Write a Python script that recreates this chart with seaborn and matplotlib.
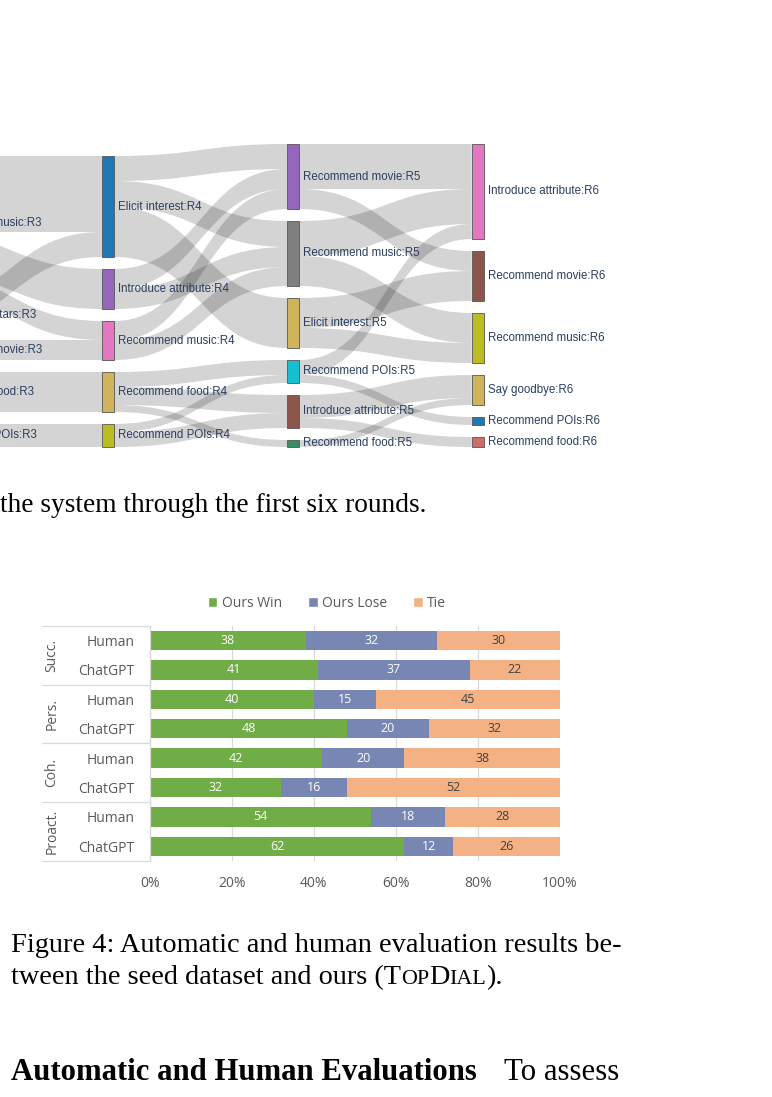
import matplotlib
matplotlib.use("Agg")
import numpy as np
import pandas as pd
import matplotlib.pyplot as plt
import seaborn as sns
from matplotlib.patches import Rectangle, PathPatch, Patch
from matplotlib.path import Path

# ---------------- data ----------------
# sankey: dialogue acts of the system, rounds 3-6
r3_nodes = ["Recommend music:R3", "Recommend stars:R3", "Recommend movie:R3",
            "Recommend food:R3", "Recommend POIs:R3"]
r4_nodes = ["Elicit interest:R4", "Introduce attribute:R4", "Recommend music:R4",
            "Recommend food:R4", "Recommend POIs:R4"]
r5_nodes = ["Recommend movie:R5", "Recommend music:R5", "Elicit interest:R5",
            "Recommend POIs:R5", "Introduce attribute:R5", "Recommend food:R5"]
r6_nodes = ["Introduce attribute:R6", "Recommend movie:R6", "Recommend music:R6",
            "Say goodbye:R6", "Recommend POIs:R6", "Recommend food:R6"]
r3_colors = ["#7f7f7f", "#17becf", "#8c564b", "#cfb45b", "#bcbd22"]
r4_colors = ["#1f77b4", "#9467bd", "#e377c2", "#cfb45b", "#bcbd22"]
r5_colors = ["#9467bd", "#7f7f7f", "#cfb45b", "#17becf", "#8c564b", "#3d8b63"]
r6_colors = ["#e377c2", "#8c564b", "#bcbd22", "#cfb45b", "#1f77b4", "#cd6e6a"]

link_src = ["Recommend music:R3", "Recommend music:R3", "Recommend music:R3",
            "Recommend stars:R3", "Recommend movie:R3", "Recommend food:R3",
            "Recommend POIs:R3",
            "Elicit interest:R4", "Elicit interest:R4", "Elicit interest:R4",
            "Introduce attribute:R4", "Introduce attribute:R4",
            "Recommend music:R4", "Recommend music:R4",
            "Recommend food:R4", "Recommend food:R4", "Recommend food:R4",
            "Recommend POIs:R4", "Recommend POIs:R4",
            "Recommend movie:R5", "Recommend movie:R5",
            "Recommend music:R5", "Recommend music:R5",
            "Elicit interest:R5", "Elicit interest:R5",
            "Recommend POIs:R5", "Recommend POIs:R5",
            "Introduce attribute:R5", "Introduce attribute:R5",
            "Recommend food:R5"]
link_tgt = ["Elicit interest:R4", "Introduce attribute:R4", "Recommend music:R4",
            "Elicit interest:R4", "Recommend music:R4", "Recommend food:R4",
            "Recommend POIs:R4",
            "Recommend movie:R5", "Recommend music:R5", "Elicit interest:R5",
            "Recommend movie:R5", "Recommend music:R5",
            "Recommend movie:R5", "Recommend music:R5",
            "Recommend POIs:R5", "Introduce attribute:R5", "Recommend food:R5",
            "Recommend POIs:R5", "Introduce attribute:R5",
            "Introduce attribute:R6", "Recommend movie:R6",
            "Introduce attribute:R6", "Recommend music:R6",
            "Recommend movie:R6", "Recommend music:R6",
            "Introduce attribute:R6", "Recommend POIs:R6",
            "Say goodbye:R6", "Recommend food:R6",
            "Say goodbye:R6"]
link_val = [76, 40, 19, 25, 20, 40, 23,
            25, 26, 50, 20, 20, 20, 19, 15, 18, 7, 8, 15,
            45, 20, 35, 30, 30, 20, 15, 8, 23, 10, 7]

# stacked bar chart: win / lose / tie (%)
groups = ["Succ.", "Pers.", "Coh.", "Proact."]
judges = ["Human", "ChatGPT"]
win = [38, 41, 40, 48, 42, 32, 54, 62]
lose = [32, 37, 15, 20, 20, 16, 18, 12]
tie = [30, 22, 45, 32, 38, 52, 28, 26]

# ---------------- figure ----------------
W, H = 772, 1097
sns.set_theme(style="white")
plt.rcParams["font.family"] = ["Open Sans", "DejaVu Sans"]
fig = plt.figure(figsize=(W / 100, H / 100), dpi=100)
fig.patch.set_facecolor("white")

page = fig.add_axes([0, 0, 1, 1])
page.set_xlim(0, W)
page.set_ylim(H, 0)
page.axis("off")

# ---- sankey layout ----
columns = [list(zip(r3_nodes, r3_colors)), list(zip(r4_nodes, r4_colors)),
           list(zip(r5_nodes, r5_colors)), list(zip(r6_nodes, r6_colors))]
col_x = [-91, 102.3, 287.3, 471.7]
node_w, gap, base = 12, 12, 447

links = pd.DataFrame({"src": link_src, "tgt": link_tgt, "val": link_val})
vin = links.groupby("tgt")["val"].sum()
vout = links.groupby("src")["val"].sum()

pos = {}
for ci, col in enumerate(columns):
    vals = [max(vin.get(n, 0), vout.get(n, 0)) for n, _ in col]
    y = base - (sum(vals) + gap * (len(vals) - 1))
    for (n, c), v in zip(col, vals):
        pos[n] = dict(x=col_x[ci], y0=y, h=v, color=c, out=y, inn=y)
        y += v + gap

links["sy"] = links["src"].map(lambda n: pos[n]["y0"])
links["ty"] = links["tgt"].map(lambda n: pos[n]["y0"])
band_color = (0, 0, 0, 0.17)
# out-offsets ordered by target position, in-offsets ordered by source position
src_off, tgt_off = {}, {}
for i, r in links.sort_values("ty").iterrows():
    p = pos[r["src"]]
    src_off[i] = p["out"]
    p["out"] += r["val"]
for i, r in links.sort_values("sy").iterrows():
    p = pos[r["tgt"]]
    tgt_off[i] = p["inn"]
    p["inn"] += r["val"]

for i, r in links.iterrows():
    xs = pos[r["src"]]["x"] + node_w
    xt = pos[r["tgt"]]["x"]
    xm = (xs + xt) / 2
    s0, t0, v = src_off[i], tgt_off[i], r["val"]
    verts = [(xs, s0), (xm, s0), (xm, t0), (xt, t0), (xt, t0 + v),
             (xm, t0 + v), (xm, s0 + v), (xs, s0 + v), (xs, s0)]
    codes = [Path.MOVETO, Path.CURVE4, Path.CURVE4, Path.CURVE4, Path.LINETO,
             Path.CURVE4, Path.CURVE4, Path.CURVE4, Path.CLOSEPOLY]
    page.add_patch(PathPatch(Path(verts, codes), facecolor=band_color,
                             edgecolor="none", zorder=1))

for n, p in pos.items():
    page.add_patch(Rectangle((p["x"], p["y0"]), node_w, p["h"], facecolor=p["color"],
                             edgecolor="#555555", linewidth=0.6, zorder=2))
    page.text(p["x"] + node_w + 4, p["y0"] + p["h"] / 2, n, fontsize=8.3,
              family="Liberation Sans", color="#2a3f5f", va="center", ha="left", zorder=3)

# ---- page text ----
renderer = fig.canvas.get_renderer()
serif = "Liberation Serif"
sc = 0.78


def measure(parts, size, weight="normal"):
    w = 0
    for s, k in parts:
        t = page.text(0, 0, s, fontsize=size * k, family=serif, weight=weight)
        w += t.get_window_extent(renderer).width
        t.remove()
    return w


def line(x, y, parts, width, weight="normal"):
    # size the line so that it spans the same width as in the scanned page
    size = 20 * width / measure(parts, 20, weight)
    for s, k in parts:
        t = page.text(x, y, s, fontsize=size * k, family=serif, weight=weight,
                      va="baseline", ha="left", color="black")
        x += t.get_window_extent(renderer).width
    return size


line(0, 512, [("the system through the first six rounds.", 1)], 427)
line(11, 952, [("Figure 4: Automatic and human evaluation results be-", 1)], 611)
line(11, 984.5, [("tween the seed dataset and ours (T", 1), ("OP", sc), ("D", 1),
                 ("IAL", sc), (").", 1)], 490)
line(11, 1079.5, [("Automatic and Human Evaluations", 1)], 465, weight="bold")
line(504, 1079.5, [("To assess", 1)], 115)
line(11, 1116, [("the quality of T", 1), ("OP", sc), ("D", 1), ("IAL", sc),
                (", we conduct both LLM-based and", 1)], 605)

# ---- stacked bar chart ----
rows = [f"{g}|{j}" for g in groups for j in judges]
df = pd.DataFrame({"row": rows, "win": win, "lose": lose, "tie": tie})
df["win_lose"] = df["win"] + df["lose"]
df["total"] = df["win_lose"] + df["tie"]

c_win, c_lose, c_tie = "#70ad47", "#7886b3", "#f4b183"
ax = fig.add_axes([150 / W, 1 - 861 / H, 410 / W, (861 - 625.7) / H])
for col, c in [("total", c_tie), ("win_lose", c_lose), ("win", c_win)]:
    sns.barplot(data=df, y="row", x=col, order=rows, orient="h", color=c,
                saturation=1, width=0.66, errorbar=None, linewidth=0, ax=ax)

for i, r in df.iterrows():
    segs = [(r["win"] / 2, r["win"], "white"),
            (r["win"] + r["lose"] / 2, r["lose"], "white"),
            (r["win_lose"] + r["tie"] / 2, r["tie"], "#404040")]
    for xc, v, tc in segs:
        ax.text(xc, i, f"{v}", ha="center", va="center", fontsize=9,
                color=tc, family="Open Sans")

ax.set_xlim(0, 100)
ax.set_ylim(len(rows) - 0.5, -0.5)
ax.set_xticks(range(0, 101, 20))
ax.set_xticklabels([f"{t}%" for t in range(0, 101, 20)])
ax.set_yticks(range(len(rows)))
ax.set_yticklabels([j for g in groups for j in judges])
ax.set_xlabel("")
ax.set_ylabel("")
ax.tick_params(axis="x", length=0, pad=11, labelsize=10, labelcolor="#595959")
ax.tick_params(axis="y", length=0, pad=11, labelsize=10, labelcolor="#595959")
ax.grid(axis="x", color="#d9d9d9", linewidth=0.9)
ax.set_axisbelow(True)
for s in ["top", "right", "bottom"]:
    ax.spines[s].set_visible(False)
ax.spines["left"].set_color("#d9d9d9")
ax.spines["left"].set_linewidth(0.9)

ytr = ax.get_yaxis_transform()
left_edge = (42 - 150) / 410
for k in range(len(groups) + 1):
    yb = 2 * k - 0.5
    ax.plot([left_edge, 0], [yb, yb], transform=ytr, color="#d9d9d9",
            linewidth=0.9, clip_on=False)
for k, g in enumerate(groups):
    ax.text((52 - 150) / 410, 2 * k + 0.5, g, transform=ytr, rotation=90,
            ha="center", va="center", fontsize=10, color="#595959")

handles = [Patch(facecolor=c_win), Patch(facecolor=c_lose), Patch(facecolor=c_tie)]
fig.legend(handles, ["Ours Win", "Ours Lose", "Tie"], loc="center",
           bbox_to_anchor=(327 / W, 1 - 603.3 / H), ncol=3, frameon=False,
           handlelength=0.7, handleheight=0.7, handletextpad=0.3,
           columnspacing=1.9, fontsize=10, labelcolor="#595959")

fig.savefig("out.png", dpi=100)
